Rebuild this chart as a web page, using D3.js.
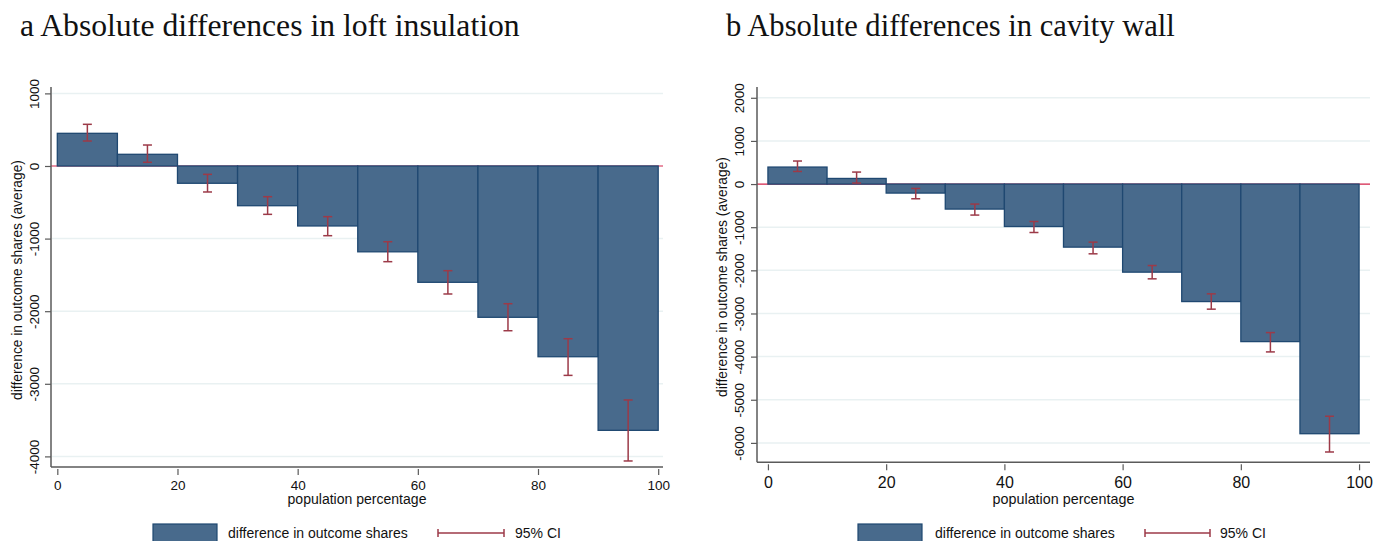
<!DOCTYPE html>
<html><head><meta charset="utf-8">
<script src="https://cdn.jsdelivr.net/npm/d3@7"></script>
<style>body{margin:0;background:#fff}svg{display:block}</style>
</head><body>
<svg id="c" width="1375" height="541"></svg>
<script>
// ---- data ----
const binStarts = [0, 10, 20, 30, 40, 50, 60, 70, 80, 90];
const binWidth = 10;
const xTicks = [0, 20, 40, 60, 80, 100];

const loftValues = [450, 161, -238, -547, -826, -1182, -1602, -2084, -2627, -3641];
const loftLow    = [344, 51, -358, -666, -960, -1318, -1763, -2269, -2884, -4063];
const loftHigh   = [574, 289, -115, -423, -698, -1043, -1442, -1897, -2379, -3223];
const loftYTicks = [1000, 0, -1000, -2000, -3000, -4000];

const cavityValues = [394, 130, -209, -580, -984, -1462, -2042, -2724, -3652, -5787];
const cavityLow    = [292, 23, -341, -719, -1123, -1617, -2197, -2900, -3891, -6211];
const cavityHigh   = [534, 278, -102, -464, -868, -1346, -1889, -2545, -3443, -5383];
const cavityYTicks = [2000, 1000, 0, -1000, -2000, -3000, -4000, -5000, -6000];

const titles = ["a Absolute differences in loft insulation", "b Absolute differences in cavity wall"];
const yTitle = "difference in outcome shares (average)";
const xTitle = "population percentage";
const legendLabels = ["difference in outcome shares", "95% CI"];

// ---- style ----
const BAR_FILL = "#486a8c", BAR_STROKE = "#1f4871", CI = "#9c3a48", ZERO = "#d3234a",
      GRID = "#e9f1f2", AXIS = "#5a5a5a";
const SANS = "'Liberation Sans', Arial, sans-serif", SERIF = "'Liberation Serif', 'Times New Roman', serif";

const svg = d3.select("#c");

function fitText(sel, base, target) {
  sel.attr("font-size", base);
  const w = sel.node().getComputedTextLength();
  sel.attr("font-size", base * target / w);
}

const panels = [
  {values: loftValues, low: loftLow, high: loftHigh, yTicks: loftYTicks, title: titles[0],
   left: 51, right: 663, top: 87, bottom: 467, xDom: [-1.05, 100.8], yDom: [-4146, 1088],
   titleX: 20, titleW: 500, xTickSize: 13.5, xTickBase: 490, yTitleX: 22, yTitleC: 280, yTitleLen: 240, yLabX: 38.5,
   xTitleW: 139, legSw: 153, legText: 228, legTextW: 180, ciL: 438, ciR: 504, ciText: 515},
  {values: cavityValues, low: cavityLow, high: cavityHigh, yTicks: cavityYTicks, title: titles[1],
   left: 757, right: 1370, top: 87, bottom: 462.3, xDom: [-1.85, 101.85], yDom: [-6450, 2250],
   titleX: 726, titleW: 449, xTickSize: 16, xTickBase: 488.5, yTitleX: 727, yTitleC: 277, yTitleLen: 240, yLabX: 743.5,
   xTitleW: 142, legSw: 858, legText: 935, legTextW: 180, ciL: 1145, ciR: 1210, ciText: 1220}
];

panels.forEach(p => {
  const g = svg.append("g");
  const x = d3.scaleLinear().domain(p.xDom).range([p.left, p.right]);
  const y = d3.scaleLinear().domain(p.yDom).range([p.bottom, p.top]);

  // title
  const t = g.append("text").attr("x", p.titleX).attr("y", 36)
    .attr("font-family", SERIF).attr("fill", "#111").text(p.title);
  fitText(t, 30, p.titleW);

  // grid
  g.append("g").selectAll("line").data(p.yTicks.filter(d => d !== 0)).join("line")
    .attr("x1", p.left + 1).attr("x2", p.right)
    .attr("y1", d => y(d)).attr("y2", d => y(d))
    .attr("stroke", GRID).attr("stroke-width", 1.5);

  // zero line
  g.append("line").attr("x1", p.left).attr("x2", p.right).attr("y1", y(0)).attr("y2", y(0))
    .attr("stroke", ZERO).attr("stroke-width", 1.2);

  // bars
  g.append("g").selectAll("rect").data(binStarts).join("rect")
    .attr("x", d => x(d))
    .attr("width", d => x(d + binWidth) - x(d))
    .attr("y", (d, i) => Math.min(y(0), y(p.values[i])))
    .attr("height", (d, i) => Math.abs(y(p.values[i]) - y(0)))
    .attr("fill", BAR_FILL).attr("stroke", BAR_STROKE).attr("stroke-width", 1.3);

  // CIs
  const ci = g.append("g").attr("stroke", CI).attr("stroke-width", 1.5);
  binStarts.forEach((d, i) => {
    const cx = x(d + binWidth / 2);
    ci.append("line").attr("x1", cx).attr("x2", cx).attr("y1", y(p.low[i])).attr("y2", y(p.high[i]));
    [p.low[i], p.high[i]].forEach(v =>
      ci.append("line").attr("x1", cx - 4.5).attr("x2", cx + 4.5).attr("y1", y(v)).attr("y2", y(v)));
  });

  // y axis
  const ya = g.append("g").attr("transform", `translate(${p.left},0)`)
    .call(d3.axisLeft(y).tickValues(p.yTicks).tickSize(6).tickFormat(d => String(d)));
  ya.select(".domain").attr("d", `M0,${p.top}V${p.bottom}`).attr("stroke", AXIS).attr("stroke-width", 1.5);
  ya.selectAll(".tick line").attr("stroke", AXIS).attr("stroke-width", 1.2);
  ya.selectAll(".tick text").attr("x", 0).attr("dy", null)
    .attr("transform", `translate(${p.yLabX - p.left},0) rotate(-90)`)
    .attr("text-anchor", "middle").attr("font-family", SANS).attr("font-size", 13.5).attr("fill", "#111");

  // x axis
  const xa = g.append("g").attr("transform", `translate(0,${p.bottom})`)
    .call(d3.axisBottom(x).tickValues(xTicks).tickSize(7).tickPadding(4).tickFormat(d => String(d)));
  xa.select(".domain").attr("d", `M${p.left},0H${p.right}`).attr("stroke", AXIS).attr("stroke-width", 1.5);
  xa.selectAll(".tick line").attr("stroke", AXIS).attr("stroke-width", 1.2).attr("y1", 2).attr("y2", 8);
  xa.selectAll(".tick text").attr("font-family", SANS).attr("font-size", p.xTickSize).attr("fill", "#111")
    .attr("dy", null).attr("y", p.xTickBase - p.bottom);

  // axis titles
  const xt = g.append("text").attr("x", (p.left + p.right) / 2).attr("y", 503.5)
    .attr("text-anchor", "middle").attr("font-family", SANS).attr("fill", "#111").text(xTitle);
  fitText(xt, 13, p.xTitleW);
  const yt = g.append("text").attr("transform", `translate(${p.yTitleX},${p.yTitleC}) rotate(-90)`)
    .attr("text-anchor", "middle").attr("font-family", SANS).attr("fill", "#111").text(yTitle);
  fitText(yt, 13, p.yTitleLen);

  // legend
  g.append("rect").attr("x", p.legSw).attr("y", 524).attr("width", 64).attr("height", 22)
    .attr("fill", BAR_FILL).attr("stroke", BAR_STROKE).attr("stroke-width", 1.2);
  const lt = g.append("text").attr("x", p.legText).attr("y", 538).attr("font-family", SANS)
    .attr("fill", "#111").text(legendLabels[0]);
  fitText(lt, 13, p.legTextW);
  const fs = +lt.attr("font-size");
  const lg = g.append("g").attr("stroke", CI).attr("stroke-width", 1.5);
  lg.append("line").attr("x1", p.ciL).attr("x2", p.ciR).attr("y1", 533).attr("y2", 533);
  [p.ciL, p.ciR].forEach(cx => lg.append("line").attr("x1", cx).attr("x2", cx).attr("y1", 529).attr("y2", 537));
  g.append("text").attr("x", p.ciText).attr("y", 538).attr("font-family", SANS).attr("font-size", fs)
    .attr("fill", "#111").text(legendLabels[1]);
});
</script>
</body></html>
